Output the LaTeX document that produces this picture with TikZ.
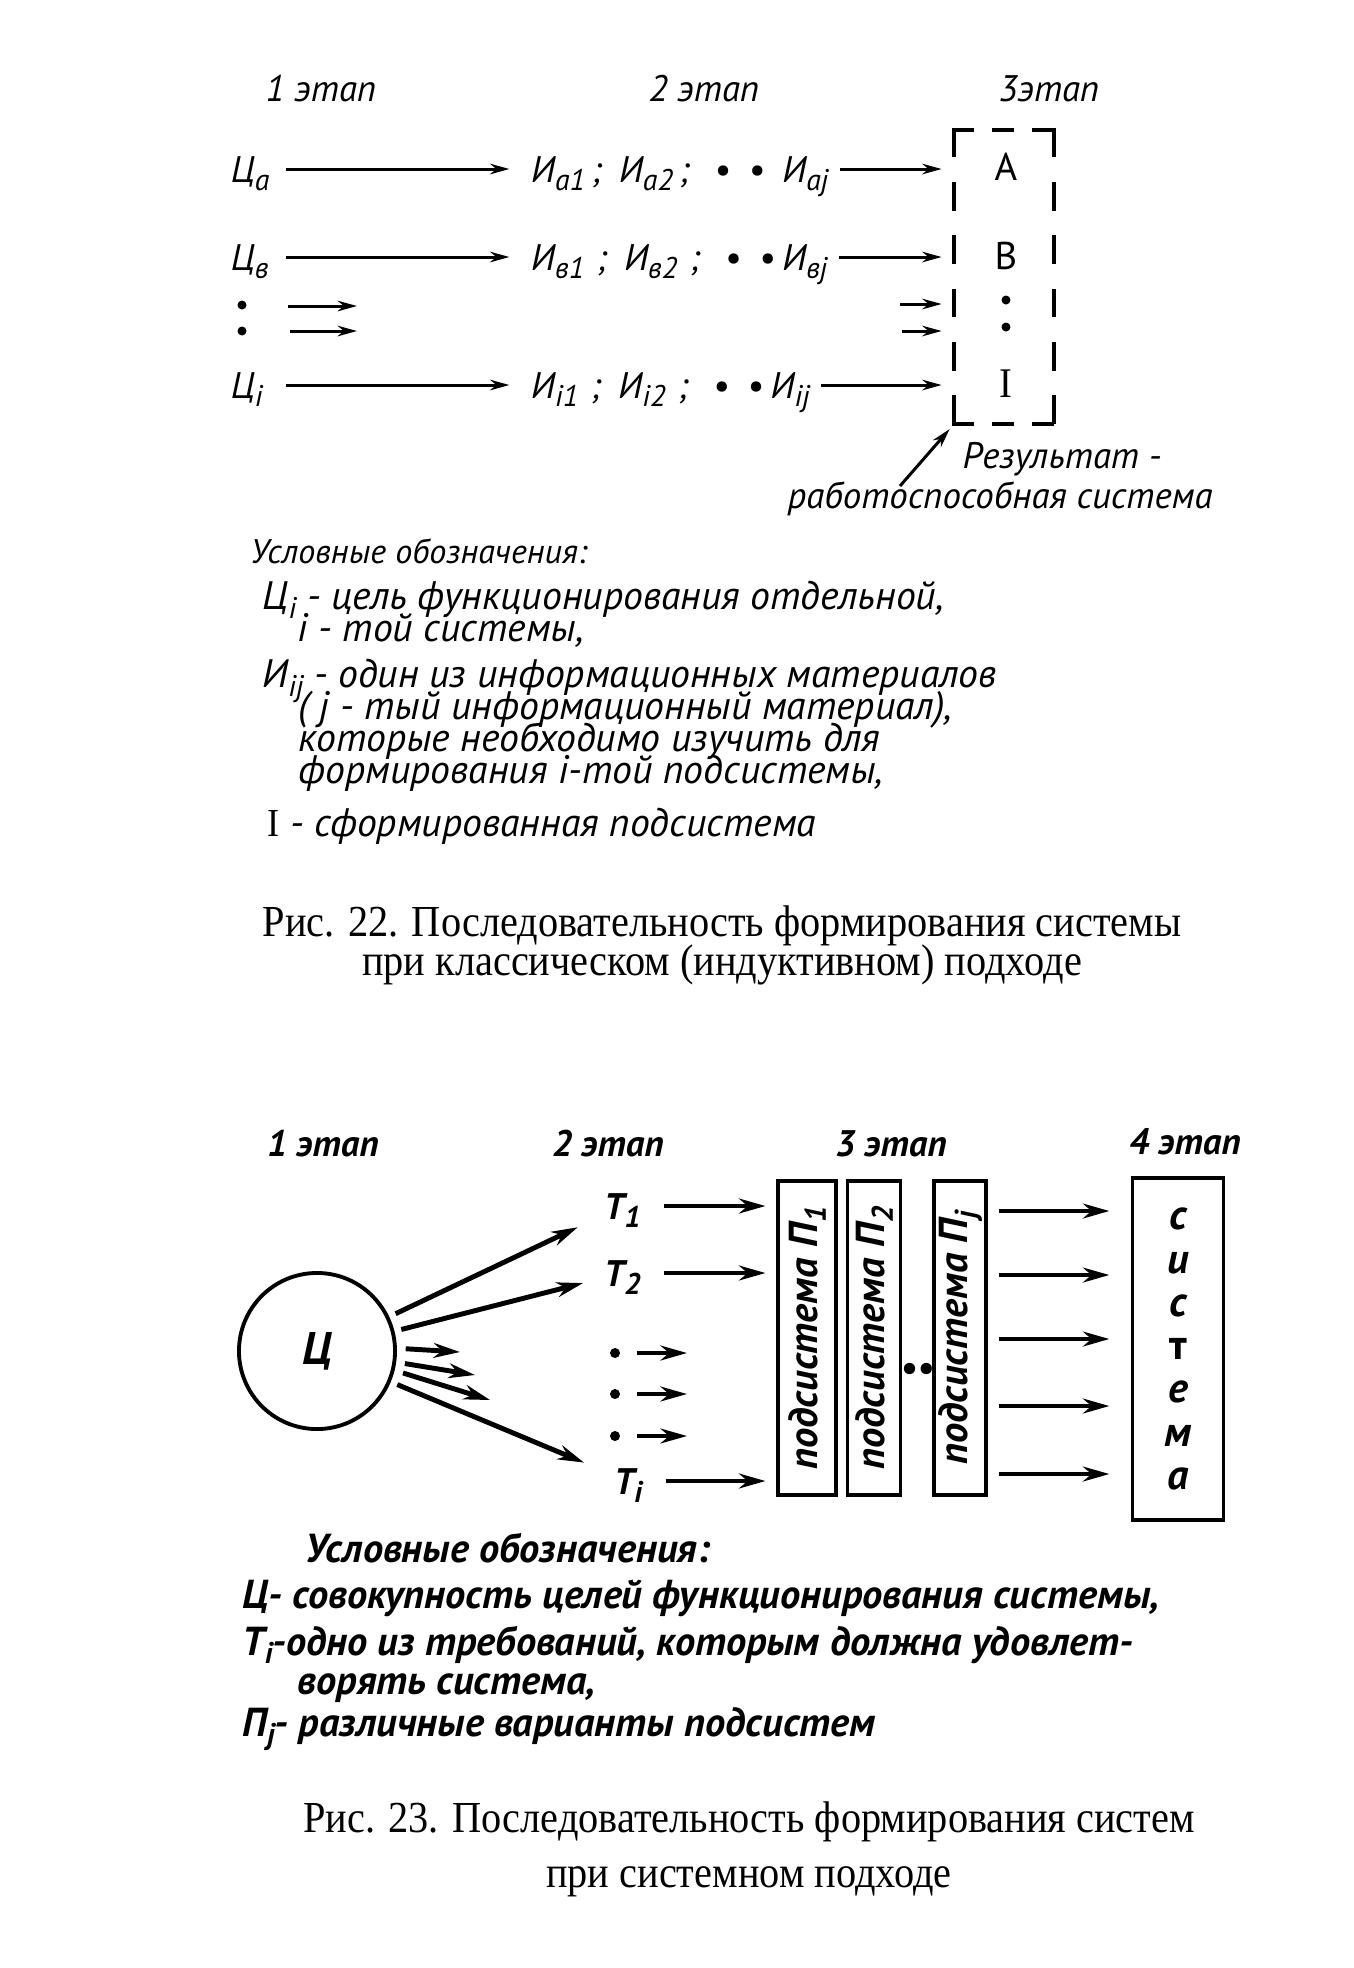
\documentclass[tikz,border=0pt]{standalone}
\usepackage{fontspec}
\setmainfont{PT Sans}
\newfontfamily\capfont{Liberation Serif}[FakeStretch=0.91]
\usetikzlibrary{arrows.meta,positioning}
\newcommand{\sbs}[1]{\raisebox{-2.5pt}{\fontsize{8.5}{9}\selectfont #1}}
\newcommand{\tightlines}{\lineskiplimit=-40pt\lineskip=0pt\relax}
\tikzset{
  lbl/.style={font=\itshape\fontsize{10.5}{12}\selectfont,inner sep=1pt},
  rowtxt/.style={lbl,text height=7.4pt,text depth=0pt},
  goaltxt/.style={rowtxt,text width=0.51cm,align=left},
  legtxt/.style={font=\itshape\fontsize{11.3}{9.1}\selectfont\tightlines,
                 inner sep=0pt,anchor=base west,align=left},
  blbl/.style={font=\bfseries\itshape\fontsize{10.5}{12}\selectfont,inner sep=1pt},
  browtxt/.style={blbl,text height=7.4pt,text depth=0pt},
  blegtxt/.style={font=\bfseries\itshape\fontsize{11.5}{13.4}\selectfont\tightlines,
                  inner sep=0pt,anchor=base west,align=left},
  captxt/.style={font=\capfont\fontsize{12.6}{11}\selectfont\tightlines,
                 inner sep=0pt,anchor=base,align=center},
  boxltr/.style={font=\fontsize{11}{12}\selectfont,inner sep=0pt},
  arr/.style={-{Stealth[length=5.5pt,width=3pt]},line width=0.85pt},
  barr/.style={-{Stealth[length=7.5pt,width=4.2pt]},line width=1.4pt},
  vdash/.style={line width=1.1pt,line cap=rect,dash pattern=on 0.25cm off 0.284cm},
  hdash/.style={line width=1.1pt,line cap=rect,dash pattern=on 0.18cm off 0.22cm},
  subbox/.style={draw,line width=1.1pt,minimum height=3.14cm,inner sep=0pt,
                 font=\bfseries\itshape\fontsize{11.5}{12}\selectfont},
  dotmark/.style={circle,fill,inner sep=0pt,minimum size=0.09cm}
}
\begin{document}
\begin{tikzpicture}[x=0.01cm,y=-0.01cm]
  \path[use as bounding box] (0,0) rectangle (1354,1968);
  % Рис. 22
  \node[lbl] (st1) at (321,89) {1 этап};
  \node[lbl] (st2) at (704,89) {2 этап};
  \node[lbl] (st3) at (1049,89) {3этап};
  \node[goaltxt,anchor=east] (ca) at (286,169) {Ц\sbs{a}};
  \node[goaltxt,anchor=east] (cb) at (286,257) {Ц\sbs{в}};
  \node[goaltxt,anchor=east] (ci) at (286,385) {Ц\sbs{i}};
  \node[dotmark] (d1) at (242,305) {};
  \node[dotmark] (d2) at (242,331) {};
  \node[rowtxt,anchor=west] (ia) at (527,169)
    {И\sbs{a1}\,;\hspace{5pt}И\sbs{a2}\,;\hspace{7pt}\textbullet\hspace{5pt}\textbullet\hspace{5pt}И\sbs{aj}};
  \node[rowtxt,anchor=west] (ib) at (527,257)
    {И\sbs{в1}\,\,;\hspace{5pt}И\sbs{в2}\,\,;\hspace{7pt}\textbullet\hspace{5pt}\textbullet\hspace{2pt}И\sbs{вj}};
  \node[rowtxt,anchor=west] (ii) at (527,385)
    {И\sbs{i1}\,\,;\hspace{5pt}И\sbs{i2}\,\,;\hspace{7pt}\textbullet\hspace{5pt}\textbullet\hspace{2pt}И\sbs{ij}};
  \node[minimum width=0.98cm,minimum height=2.92cm,inner sep=0pt] (res) at (1004,277) {};
  \draw[vdash] (res.north west) -- (res.south west);
  \draw[vdash] (res.north east) -- (res.south east);
  \draw[hdash] (res.north west) -- (res.north east);
  \draw[hdash] (res.south west) -- (res.south east);
  \node[boxltr] (la) at (1006,167) {A};
  \node[boxltr] (lb) at (1006,256) {B};
  \node[dotmark] (bd1) at (1006,300) {};
  \node[dotmark] (bd2) at (1006,327) {};
  \node[boxltr,font=\capfont\fontsize{12}{12}\selectfont] (li) at (1006,384) {I};
  \draw[arr,shorten >=5pt] (ca.east) -- (ia.west);
  \draw[arr,shorten >=5pt] (cb.east) -- (ib.west);
  \draw[arr,shorten >=5pt] (ci.east) -- (ii.west);
  \coordinate (la1) at (288,306);
  \coordinate (la1e) at (357,306);
  \coordinate (la2) at (290,331);
  \coordinate (la2e) at (357,331);
  \draw[arr] (la1) -- (la1e);
  \draw[arr] (la2) -- (la2e);
  \foreach \r in {ia,ib,ii}
    \draw[arr,shorten <=2pt,shorten >=3.6pt] (\r.east) -- (\r.east -| res.west);
  \coordinate (ra1) at (900,304);
  \coordinate (ra2) at (902,331);
  \draw[arr,shorten >=3.6pt] (ra1) -- (ra1 -| res.west);
  \draw[arr,shorten >=3.6pt] (ra2) -- (ra2 -| res.west);
  \node[lbl,anchor=base west,inner sep=0pt] (rt1) at (962,468) {Результат -};
  \node[lbl,anchor=base west,inner sep=0pt] (rt2) at (787,508) {работоспособная система};
  \coordinate (rtail) at (900,486);
  \draw[arr,shorten >=2pt] (rtail) -- (res.south west);
  % legend 22
  \node[legtxt] (lg) at (250,836)
    {{\fontsize{9.7}{9.1}\selectfont Условные обозначения:}\\[4pt]
     \hspace*{0.12cm}Ц\sbs{i} - цель функционирования отдельной,\\
     \hspace*{0.47cm}i - той системы,\\[4pt]
     \hspace*{0.12cm}И\sbs{ij} - один из информационных материалов\\
     \hspace*{0.48cm}( j - тый информационный материал),\\
     \hspace*{0.48cm}которые необходимо изучить для\\
     \hspace*{0.48cm}формирования i-той подсистемы,\\[5.7pt]
     \hspace*{0.17cm}{\capfont\upshape I} - сформированная подсистема};
  \node[captxt] (cap1) at (722,975)
    {Рис. 22. Последовательность формирования системы\\
     при классическом (индуктивном) подходе};
  % Рис. 23
  \node[blbl] (bs1) at (323,1144) {1 этап};
  \node[blbl] (bs2) at (608,1144) {2 этап};
  \node[blbl] (bs3) at (891,1144) {3 этап};
  \node[blbl] (bs4) at (1185,1142) {4 этап};
  \node[circle,draw,line width=1.1pt,minimum size=1.56cm,inner sep=0pt,
        font=\bfseries\itshape\fontsize{13}{14}\selectfont] (goal) at (317,1351) {Ц};
  \node[browtxt,anchor=west] (t1) at (600,1206) {T\sbs{1}};
  \node[browtxt,anchor=west] (t2) at (600,1273) {T\sbs{2}};
  \node[browtxt,anchor=west] (ti) at (610,1481) {T\sbs{i}};
  \node[dotmark,minimum size=0.1cm] (td1) at (615,1353) {};
  \node[dotmark,minimum size=0.1cm] (td2) at (615,1394) {};
  \node[dotmark,minimum size=0.1cm] (td3) at (615,1436) {};
  \node[subbox,minimum width=0.58cm] (p1) at (807,1338)
    {\rotatebox{90}{подсистема П\sbs{1}}};
  \node[subbox,minimum width=0.53cm] (p2) at (874,1338)
    {\rotatebox{90}{подсистема П\sbs{2}}};
  \node[subbox,minimum width=0.52cm] (pj) at (960,1338)
    {\rotatebox{90}{подсистема П\sbs{j}}};
  \node[blbl] (mdots) at (917,1372) {••};
  \node[subbox,minimum width=0.91cm,minimum height=3.42cm,align=center,
        font=\bfseries\itshape\fontsize{12}{12.3}\selectfont] (sys) at (1178,1349)
    {с\\и\\с\\{\upshape т}\\е\\м\\а};
  \draw[barr,shorten <=2pt,shorten >=7pt] (goal) -- (t1);
  \draw[barr,shorten <=2pt,shorten >=5pt] (goal) -- (t2);
  \draw[barr,shorten <=2pt,shorten >=8pt] (goal) -- (ti);
  \coordinate (f1) at (460,1352);
  \coordinate (f2) at (475,1375);
  \coordinate (f3) at (490,1400);
  \draw[barr,shorten <=2.5pt] (goal.2) -- (f1);
  \draw[barr,shorten <=2.5pt] (goal.-8) -- (f2);
  \draw[barr,shorten <=2.5pt] (goal.-14) -- (f3);
  \coordinate (te1) at (687,1353);
  \coordinate (te2) at (687,1394);
  \coordinate (te3) at (687,1436);
  \draw[barr,shorten <=4.5pt] (td1) -- (te1);
  \draw[barr,shorten <=4.5pt] (td2) -- (te2);
  \draw[barr,shorten <=4.5pt] (td3) -- (te3);
  \foreach \t in {t1,t2,ti}
    \draw[barr,shorten <=5.5pt,shorten >=3pt] (\t.east) -- (\t.east -| p1.west);
  \foreach \y [count=\k] in {1211,1275,1339,1406,1474}{
    \coordinate (r\k) at (990,\y);
    \draw[barr,shorten <=3pt,shorten >=6pt] (pj.east |- r\k) -- (sys.west |- r\k);
  }
  % legend 23
  \node[blegtxt] (bl1) at (305,1562) {Условные обозначения:};
  \node[blegtxt] (bl2) at (242,1736)
    {Ц- совокупность целей функционирования системы,\\
     T\sbs{i}-одно из требований, которым должна удовлет-\\[-2.3pt]
     \hspace*{0.55cm}ворять система,\\[-1.5pt]
     П\sbs{j}- различные варианты подсистем};
  \node[captxt] (cap2) at (749,1887)
    {Рис. 23. Последовательность формирования систем\\[4.4pt]
     при системном подходе};
\end{tikzpicture}
\end{document}
